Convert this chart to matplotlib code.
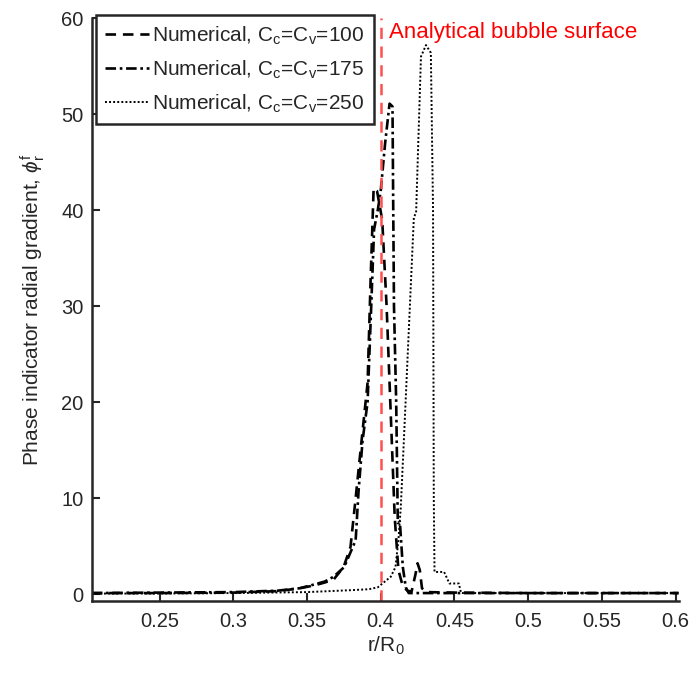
import matplotlib
matplotlib.use("Agg")
import matplotlib.pyplot as plt

plt.rcParams['font.family'] = ['Liberation Sans', 'DejaVu Sans']
plt.rcParams['mathtext.fontset'] = 'custom'
plt.rcParams['mathtext.rm'] = 'Liberation Sans'
plt.rcParams['mathtext.it'] = 'Liberation Sans:italic'

# Numerical, Cc=Cv=100 (dashed)
x100 = [0.204, 0.25, 0.30, 0.33, 0.345, 0.355, 0.362, 0.368, 0.3748, 0.3795, 0.383, 0.3877,
        0.3911, 0.3932, 0.3952, 0.3975, 0.401, 0.404, 0.407, 0.4095, 0.412, 0.415,
        0.4185, 0.421, 0.4235, 0.425, 0.4265, 0.428, 0.431, 0.45, 0.50, 0.55, 0.602]
y100 = [0.1, 0.1, 0.15, 0.3, 0.6, 0.9, 1.2, 1.5, 2.8, 4.9, 10.0, 17.0,
        22.0, 33.0, 42.3, 42.0, 39.0, 30.0, 18.0, 8.0, 2.5, 0.8,
        0.3, 0.3, 2.0, 3.2, 2.5, 0.6, 0.2, 0.15, 0.1, 0.1, 0.1]

# Numerical, Cc=Cv=175 (dash-dot)
x175 = [0.204, 0.25, 0.30, 0.33, 0.345, 0.355, 0.362, 0.368, 0.3752, 0.383, 0.385,
        0.3877, 0.3911, 0.3932, 0.3955, 0.398, 0.400, 0.403, 0.406, 0.408, 0.4085,
        0.409, 0.4105, 0.4116, 0.413, 0.415, 0.417, 0.419, 0.4215, 0.45, 0.50, 0.55, 0.602]
y175 = [0.1, 0.15, 0.2, 0.35, 0.6, 1.0, 1.3, 1.8, 2.8, 5.6, 10.8,
        16.0, 20.0, 28.5, 38.0, 40.0, 42.0, 47.0, 51.1, 50.8, 40.0,
        30.0, 20.0, 7.4, 7.5, 2.8, 0.7, 0.1, 0.1, 0.1, 0.1, 0.1, 0.1]

# Numerical, Cc=Cv=250 (dotted)
x250 = [0.204, 0.25, 0.30, 0.35, 0.3795, 0.392, 0.398, 0.4068, 0.410, 0.412, 0.4136,
        0.4157, 0.4225, 0.424, 0.4273, 0.4307, 0.434, 0.4355, 0.4360, 0.4365, 0.443,
        0.4466, 0.453, 0.4545, 0.47, 0.50, 0.55, 0.602]
y250 = [0.05, 0.05, 0.1, 0.2, 0.4, 0.5, 0.7, 1.8, 2.8, 5.6, 9.0,
        16.0, 39.3, 39.7, 56.0, 57.2, 56.4, 40.0, 10.0, 2.3, 2.3,
        1.1, 1.1, 0.1, 0.1, 0.1, 0.1, 0.1]

labels = [r'Numerical, C$_\mathregular{c}$=C$_\mathregular{v}$=100',
          r'Numerical, C$_\mathregular{c}$=C$_\mathregular{v}$=175',
          r'Numerical, C$_\mathregular{c}$=C$_\mathregular{v}$=250']

analytical_r = 0.4
xticks = [0.25, 0.3, 0.35, 0.4, 0.45, 0.5, 0.55, 0.6]
xticklabels = ['0.25', '0.3', '0.35', '0.4', '0.45', '0.5', '0.55', '0.6']
yticks = [0, 10, 20, 30, 40, 50, 60]

fig = plt.figure(figsize=(6.91, 6.75), dpi=100)
ax = fig.add_axes([0.133, 0.110, 0.850, 0.863])

axc = '#262626'
ax.plot(x100, y100, color='black', lw=1.9, ls=(0, (4.0, 2.6)), label=labels[0])
ax.plot(x175, y175, color='black', lw=1.9, ls=(0, (4.0, 1.4, 1.0, 1.4)), label=labels[1])
ax.plot(x250, y250, color='black', lw=1.4, ls=(0, (1.0, 1.1)), label=labels[2])
ax.axvline(analytical_r, color='#ff5050', lw=1.8, ls=(0, (4.5, 3.0)))
ax.text(0.4058, 58.5, 'Analytical bubble surface', color='red', fontsize=16,
        va='center', ha='left')

ax.set_xlim(0.2041, 0.6025)
ax.set_ylim(-0.7, 60)
ax.set_xticks(xticks)
ax.set_xticklabels(xticklabels)
ax.set_yticks(yticks)

for s in ['top', 'right']:
    ax.spines[s].set_visible(False)
for s in ['left', 'bottom']:
    ax.spines[s].set_linewidth(1.8)
    ax.spines[s].set_color(axc)
ax.tick_params(direction='in', length=6, width=1.5, colors=axc, labelsize=14.5,
               labelcolor=axc)
ax.tick_params(axis='x', pad=8)
ax.tick_params(axis='y', pad=6)

ax.set_xlabel(r'r/R$_\mathregular{0}$', fontsize=15, color=axc, labelpad=3)
ax.set_ylabel(r'Phase indicator radial gradient, $\phi_\mathregular{r}^\mathregular{f}$',
              fontsize=15, color=axc, labelpad=10)

leg = ax.legend(loc='upper left', bbox_to_anchor=(0.007, 1.005), fontsize=15,
                handlelength=2.1, handletextpad=0.15, borderpad=0.45,
                labelspacing=0.55, borderaxespad=0.0, fancybox=False,
                framealpha=1, edgecolor=axc)
leg.get_frame().set_linewidth(1.8)
for t in leg.get_texts():
    t.set_color(axc)

fig.savefig('out.png', dpi=100)
